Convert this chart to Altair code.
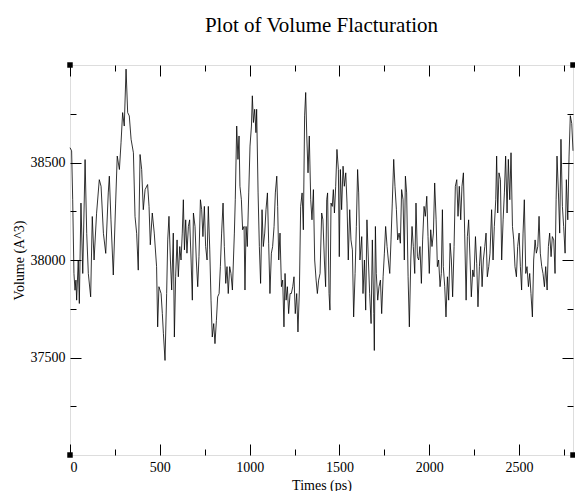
import altair as alt
import pandas as pd

TIMES = [
    0, 9, 15, 22, 28, 33, 37, 46, 52, 61, 71, 84, 93, 102, 115, 124, 134, 148, 163, 173,
    186, 199, 213, 219, 228, 241, 254, 263, 275, 284, 293, 302, 312, 321, 330, 340, 353, 362, 371, 380,
    390, 399, 408,
    418, 432, 440, 447, 458, 469, 482, 488, 495, 507, 514, 520, 529, 538, 544, 551, 559, 566, 575, 581,
    588, 596, 603, 611, 618, 625, 631, 637, 644, 651, 659, 666, 674, 681, 687, 696, 703, 711, 718, 726,
    733, 740, 748, 755, 763, 770, 778, 785, 792, 800, 807, 815, 822, 830, 837, 844, 852, 859, 867, 874,
    881, 889, 896, 904,
    915, 920, 928, 935, 941, 946, 954, 961, 969, 974, 980, 987, 995, 1002, 1010, 1015, 1021, 1028, 1035,
    1039, 1047, 1054, 1061, 1069, 1076, 1084, 1091, 1099, 1106, 1113, 1121, 1128, 1136, 1143, 1151, 1156,
    1162, 1169, 1177, 1184, 1191, 1197, 1203, 1210, 1217, 1225, 1232, 1240, 1247, 1254, 1262, 1269, 1277,
    1284, 1292, 1299, 1306, 1312, 1318, 1325, 1332, 1340, 1347, 1355, 1362, 1370, 1377, 1384, 1392,
    1401, 1408, 1416, 1423, 1429, 1434, 1442, 1447, 1453, 1460, 1466, 1472, 1479, 1486, 1494, 1499, 1505,
    1512, 1520, 1527, 1535, 1542, 1549, 1557, 1564, 1572, 1579, 1587, 1594, 1601, 1607, 1614, 1624, 1631,
    1639, 1646, 1653, 1661, 1668, 1676, 1683, 1691, 1694, 1700, 1705, 1713, 1720, 1728, 1735, 1743, 1750,
    1757, 1765, 1772, 1780, 1787, 1794, 1802, 1809, 1817, 1824, 1832, 1839, 1846, 1854, 1861,
    1867, 1874, 1882, 1889, 1897, 1904, 1911, 1919, 1926, 1934, 1941, 1948, 1956, 1963, 1971, 1978, 1986,
    1993, 2000, 2008, 2015, 2023, 2030, 2038, 2045, 2052, 2060, 2067, 2073, 2078, 2086, 2093, 2101, 2108,
    2116, 2123, 2130, 2138, 2145, 2153, 2160, 2167, 2175, 2182, 2190, 2197, 2205, 2212, 2219, 2227, 2234,
    2242, 2249, 2257, 2264, 2271, 2279, 2286, 2294, 2301, 2309, 2316, 2323, 2331, 2338,
    2347, 2355, 2362, 2370, 2375, 2381, 2388, 2396, 2403, 2411, 2418, 2425, 2433, 2440, 2448, 2455, 2463,
    2470, 2477, 2485, 2492, 2500, 2507, 2514, 2522, 2529, 2537, 2544, 2552, 2559, 2566, 2574, 2581, 2589,
    2596, 2604, 2611, 2618, 2626, 2633, 2641, 2648, 2656, 2663, 2670, 2678, 2685, 2693, 2700, 2706, 2711,
    2719, 2726, 2733, 2741, 2748, 2756, 2763, 2771, 2778, 2785, 2793, 2800,
]

VOLUMES = [
    38576, 38560, 38309, 37931, 37845, 37897, 37794, 38000, 37777, 38292, 37931, 38515, 38137, 37931, 37811,
    38223, 38000, 38240, 38412, 38378, 38137, 38034, 38344, 38430, 38206, 37923, 38292, 38533, 38464, 38601,
    38756, 38687, 38979, 38756, 38739, 38619, 38550, 38223, 38137, 37948, 38541, 38464, 38258,
    38361, 38387, 38275, 38078, 38241, 38138, 37966, 37657, 37863, 37828, 37725, 37622, 37485, 37828, 38103,
    38224, 38000, 37846, 38138, 37605, 37914, 38103, 37914, 38069, 38000, 38138, 38309, 38052, 38206, 38035,
    38172, 38206, 38000, 37794, 38241, 38172, 38000, 37863, 38017, 38309, 38258, 38120, 38275, 38069, 38000,
    38275, 38052, 37794, 37605, 37674, 37571, 37691, 37811, 37828, 37966, 38138, 38292, 38069, 37880, 37966,
    37828, 37966, 37931, 37846,
    38138, 38309, 38687, 38516, 38636, 38378, 38309, 38155, 38172, 37846, 38172, 38069, 38344, 38584, 38687,
    38842, 38705, 38773, 38653, 38773, 38344, 38069, 37880, 38258, 38069, 38138, 38258, 38344, 38086, 37828,
    38035, 38069, 38172, 38344, 38430, 38275, 38000, 38138, 37863, 37897, 37657, 37931, 37794, 37863, 37725,
    37828, 37828, 37863, 37914, 37725, 37828, 37631, 37846, 38275, 38344, 38155, 38739, 38859, 38636, 38447,
    38636, 38309, 38206, 38361, 38000, 37897, 37828, 37897, 37931,
    38241, 38206, 38000, 37863, 38309, 38344, 37828, 37743, 38292, 38275, 38361, 38241, 38378, 38567, 38464,
    38017, 38464, 38258, 38481, 38378, 38447, 38292, 38000, 38258, 38103, 38052, 37708, 37931, 38172, 38464,
    38344, 38000, 38120, 37828, 38000, 37743, 38206, 38000, 37828, 37674, 38103, 37725, 37536, 38172, 37931,
    37794, 37863, 37897, 37725, 37914, 38035, 38172, 38069, 38000, 37931, 38103, 38292, 38516, 38378, 38258,
    38103, 38138, 38086, 38361, 38309, 38000,
    38430, 38344, 37914, 37657, 38000, 38172, 38069, 37931, 38292, 38017, 38000, 38069, 37880, 38103, 38275,
    38224, 38327, 38120, 37931, 38155, 38069, 38138, 38395, 38206, 37966, 38000, 37863, 37931, 38258, 37966,
    37863, 37708, 37914, 37794, 38086, 38000, 37811, 38069, 38378, 38412, 38224, 38378, 38206, 38378, 38447,
    38138, 37794, 38120, 38206, 38000, 37811, 37949, 37914, 38120, 37983, 37760, 37966, 38069, 37863, 38000,
    38069, 38138, 37914, 37966, 38035,
    38258, 38000, 38172, 38309, 38533, 38241, 38447, 38412, 38000, 38206, 38344, 38533, 38241, 38516, 38309,
    38550, 38172, 38103, 37966, 37914, 38069, 38138, 37966, 37846, 38138, 38309, 37931, 37966, 37863, 37931,
    37828, 37708, 38000, 38103, 38035, 38069, 38224, 38035, 37966, 37931, 37863, 37966, 37846, 38069, 38138,
    38017, 38120, 38103, 37931, 38309, 38533, 38344, 38138, 38619, 38275, 38172, 38035, 38412, 38206, 38533,
    38740, 38700, 38560,
]

X_DOMAIN = [0, 2800]
Y_DOMAIN = [37000, 39000]
X_MAJOR = [0, 500, 1000, 1500, 2000, 2500]
X_MINOR = [250, 750, 1250, 1750, 2250, 2750]
Y_MAJOR = [37500, 38000, 38500]
Y_MINOR = [37250, 37750, 38250, 38750]

FONT = "Liberation Serif"

df = pd.DataFrame({"time": TIMES, "volume": VOLUMES})
corners = pd.DataFrame({
    "time": [X_DOMAIN[0], X_DOMAIN[1], X_DOMAIN[0], X_DOMAIN[1]],
    "volume": [Y_DOMAIN[0], Y_DOMAIN[0], Y_DOMAIN[1], Y_DOMAIN[1]],
})

xs = alt.Scale(domain=X_DOMAIN, nice=False, zero=False)
ys = alt.Scale(domain=Y_DOMAIN, nice=False, zero=False)

MAJOR = 11
MINOR = 6


def ax(orient, values, size, labels=False, title=None, pad=0):
    kw = dict(
        orient=orient, values=values, domain=False, grid=False,
        tickSize={"expr": str(-size)}, tickColor="#000", tickWidth=1,
        labels=labels,
    )
    if labels:
        kw.update(labelFont=FONT, labelFontSize=14, labelColor="#000", format="d",
                  labelPadding=pad)
    if title:
        kw.update(title=title, titleFont=FONT, titleFontSize=14, titleFontWeight="normal",
                  titleColor="#000", titlePadding=4)
    else:
        kw.update(title=None)
    return alt.Axis(**kw)


line = alt.Chart(df).mark_line(color="#000", strokeWidth=0.8).encode(
    x=alt.X("time:Q", scale=xs, axis=ax("bottom", X_MAJOR, MAJOR, True, "Times (ps)", pad=MAJOR + 5)),
    y=alt.Y("volume:Q", scale=ys, axis=ax("left", Y_MAJOR, MAJOR, True, "Volume (A^3)", pad=MAJOR + 5)),
)

top_major = alt.Chart(corners).mark_square(color="#000", size=30, opacity=1).encode(
    x=alt.X("time:Q", scale=xs, axis=ax("top", X_MAJOR, MAJOR)),
    y=alt.Y("volume:Q", scale=ys, axis=ax("right", Y_MAJOR, MAJOR)),
)

bottom_minor = alt.Chart(corners).mark_point(opacity=0).encode(
    x=alt.X("time:Q", scale=xs, axis=ax("bottom", X_MINOR, MINOR)),
    y=alt.Y("volume:Q", scale=ys, axis=ax("left", Y_MINOR, MINOR)),
)

top_minor = alt.Chart(corners).mark_point(opacity=0).encode(
    x=alt.X("time:Q", scale=xs, axis=ax("top", X_MINOR, MINOR)),
    y=alt.Y("volume:Q", scale=ys, axis=ax("right", Y_MINOR, MINOR)),
)

chart = alt.layer(line, top_major, bottom_minor, top_minor).resolve_axis(
    x="independent", y="independent"
).properties(
    width=503,
    height=390,
    title=alt.TitleParams(
        "Plot of Volume Flacturation", font=FONT, fontSize=21, fontWeight="normal",
        color="#000", anchor="middle", baseline="alphabetic", offset=9,
    ),
    autosize=alt.AutoSizeParams(type="none"),
    padding={"left": 70, "top": 65, "right": 2, "bottom": 36},
).configure_view(stroke="#000", strokeWidth=1).configure(background="white")

chart.save("out.html", embed_options={"renderer": "svg", "actions": False})
